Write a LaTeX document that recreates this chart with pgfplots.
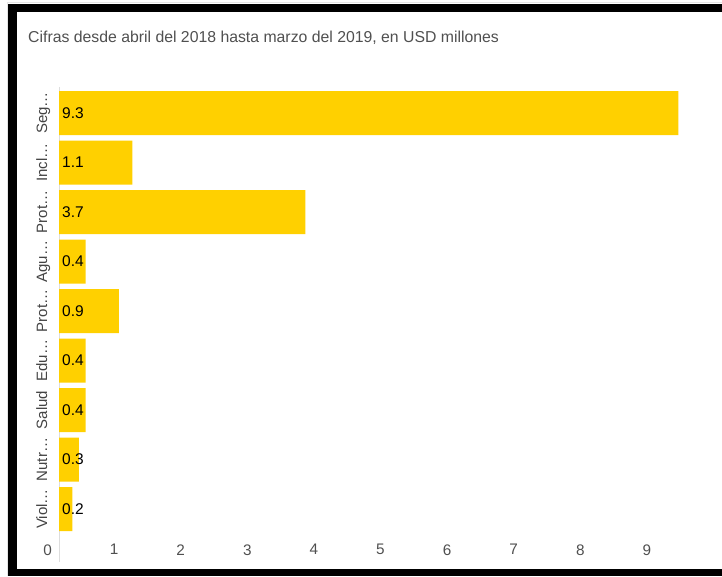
\documentclass[border=0pt]{standalone}
\usepackage{pgfplots}
\pgfplotsset{compat=1.18}
\usepackage{pgfplotstable}
\usepackage{fontspec}
\setmainfont{Liberation Sans}
\definecolor{barc}{HTML}{FFD000}
\definecolor{titlegray}{HTML}{505050}
\definecolor{labgray}{HTML}{444444}
\definecolor{tickgray}{HTML}{505050}
\definecolor{axgray}{HTML}{DDDDDD}
\pgfplotstableread{
idx value
0 9.3
1 1.1
2 3.7
3 0.4
4 0.9
5 0.4
6 0.4
7 0.3
8 0.2
}\data
\begin{document}
\begin{tikzpicture}[x=1pt,y=1pt]
\useasboundingbox (0,0) rectangle (722,576);
\fill[white] (0,0) rectangle (722,576);
% frame
\draw[gray!20, line width=1pt] (7,0) -- (7,573) -- (722,573);
\fill[black] (8,0) rectangle (17,572);
\fill[black] (8,564) rectangle (722,572);
\fill[black] (8,0) rectangle (722,7.5);
% axis line
\draw[axgray, line width=1pt] (59,489) -- (59,14);
\node[anchor=base west, inner sep=0pt, text=titlegray, font=\fontsize{15.8}{19}\selectfont] at (28,533.5) {Cifras desde abril del 2018 hasta marzo del 2019, en USD millones};
\begin{axis}[
  at={(382pt,265pt)}, anchor=center,
  scale only axis, width=646pt, height=445.5pt,
  xmin=0, xmax=9.7, ymin=-0.5, ymax=8.5, y dir=reverse,
  axis line style={draw=none}, major tick length=0pt,
  /pgf/number format/assume math mode=true,
  xtick={0,1,...,9},
  xticklabel style={anchor=north, inner sep=0pt, xshift=-11.5pt, text=tickgray, font=\fontsize{15.3}{18}\selectfont},
  xticklabel shift=10.5pt,
  ytick={0,...,8},
  yticklabels={Seg…,Incl…,Prot…,Agu…,Prot…,Edu…,Salud,Nutr…,Viol…},
  yticklabel style={rotate=90, anchor=base, inner sep=0pt, text=labgray, font=\fontsize{15}{18}\selectfont},
  yticklabel shift=12pt,
  clip=false,
]
\addplot[xbar, bar width=44pt, bar shift=0pt, fill=barc, draw=none] table[x=value, y=idx] {\data};
\addplot[draw=none, mark=none, nodes near coords, point meta=explicit,
  nodes near coords style={anchor=west, inner sep=0pt, xshift=3pt, text=black, font=\fontsize{15.5}{18}\selectfont}]
  table[x expr=0, y=idx, meta=value] {\data};
\end{axis}
\end{tikzpicture}
\end{document}
